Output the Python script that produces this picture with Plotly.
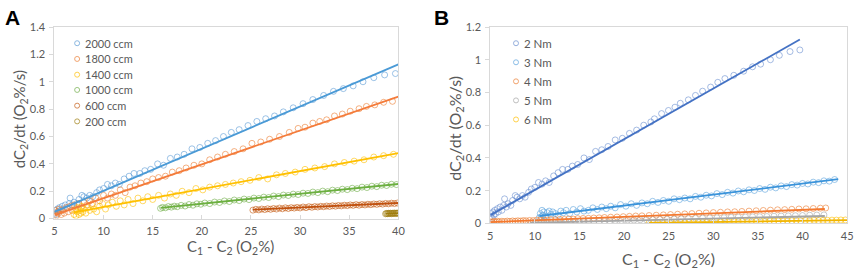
import plotly.graph_objects as go

W, H = 865, 278
FONT = "Lato, 'Open Sans', sans-serif"
GREY = "#595959"

# ---------------- Panel A data (flow rates) ----------------
a_labels = ["2000 ccm", "1800 ccm", "1400 ccm", "1000 ccm", "600 ccm", "200 ccm"]

a2000_x = [5.0, 5.1, 5.2, 5.3, 5.4, 5.5, 5.6, 5.8, 5.9, 6.1, 6.3, 6.5, 6.6, 6.8, 7.0, 7.3, 7.5, 7.8, 8.0, 8.3,
           8.6, 8.9, 9.3, 9.6, 10.0, 10.4, 10.8, 11.2, 11.6, 12.1, 12.6, 13.1, 13.7, 14.2, 14.8, 15.5, 16.1,
           16.8, 17.5, 18.2, 19.0, 19.8, 20.6, 21.4, 22.2, 23.0, 23.8, 24.7, 25.6, 26.5, 27.4, 28.3, 29.3,
           30.3, 31.3, 32.4, 33.4, 34.4, 35.4, 36.4, 37.5, 38.6, 39.7]
a2000_y = [0.04, 0.06, 0.03, 0.07, 0.05, 0.08, 0.06, 0.09, 0.07, 0.10, 0.08, 0.11, 0.15, 0.10, 0.12, 0.11, 0.14,
           0.17, 0.16, 0.15, 0.17, 0.16, 0.19, 0.21, 0.22, 0.25, 0.24, 0.26, 0.25, 0.29, 0.31, 0.33, 0.33, 0.35,
           0.36, 0.40, 0.39, 0.44, 0.45, 0.47, 0.51, 0.52, 0.55, 0.57, 0.60, 0.63, 0.65, 0.68, 0.71, 0.73, 0.75,
           0.78, 0.81, 0.84, 0.87, 0.90, 0.93, 0.95, 0.97, 1.00, 1.03, 1.05, 1.06]

a1800_x = [5.0, 5.1, 5.2, 5.3, 5.4, 5.5, 5.7, 5.8, 6.0, 6.2, 6.4, 6.6, 6.8, 7.0, 7.2, 7.5, 7.7, 8.0, 8.3, 8.6,
           8.9, 9.2, 9.6, 10.0, 10.4, 10.8, 11.2, 11.7, 12.2, 12.7, 13.2, 13.8, 14.4, 15.0, 15.6, 16.3, 17.0,
           17.7, 18.4, 19.2, 20.0, 20.8, 21.6, 22.4, 23.3, 24.2, 25.1, 26.0, 26.9, 27.9, 28.9, 29.8, 30.5,
           31.3, 32.0, 32.7, 33.5, 34.3, 35.1, 36.0, 36.75, 37.6, 38.5, 39.4]
a1800_y = [0.03, 0.06, 0.02, 0.05, 0.04, 0.07, 0.03, 0.06, 0.04, 0.08, 0.05, 0.09, 0.06, 0.10, 0.07, 0.11, 0.08,
           0.12, 0.10, 0.13, 0.11, 0.15, 0.13, 0.17, 0.15, 0.18, 0.17, 0.21, 0.19, 0.23, 0.24, 0.26, 0.27, 0.29,
           0.30, 0.31, 0.34, 0.35, 0.37, 0.39, 0.40, 0.43, 0.45, 0.47, 0.49, 0.51, 0.55, 0.56, 0.58, 0.60, 0.63,
           0.659, 0.668, 0.698, 0.71, 0.722, 0.75, 0.764, 0.785, 0.803, 0.82, 0.831, 0.85, 0.857]

a1400_x = [7.0, 7.1, 7.2, 7.3, 7.4, 7.5, 7.6, 7.7, 7.8, 7.9, 8.0, 8.2, 8.4, 8.6, 8.8, 9.0, 9.3, 9.6, 9.9, 10.2,
           10.5, 10.9, 11.3, 11.7, 12.1, 12.5, 13.0, 13.5, 14.0, 14.5, 15.0, 15.6, 16.2, 16.8, 17.4, 18.0, 18.7,
           19.4, 20.1, 20.8, 21.6, 22.4, 23.2, 24.0, 24.9, 25.8, 26.7, 27.6, 28.5, 29.5, 30.5, 31.5, 32.5, 33.5,
           34.5, 35.5, 36.5, 37.5, 38.5, 39.5]
a1400_y = [0.03, 0.06, 0.02, 0.05, 0.08, 0.03, 0.06, 0.04, 0.09, 0.05, 0.07, 0.04, 0.08, 0.06, 0.10, 0.07, 0.05,
           0.09, 0.11, 0.07, 0.10, 0.12, 0.09, 0.13, 0.10, 0.14, 0.11, 0.15, 0.13, 0.16, 0.14, 0.17, 0.15, 0.18,
           0.17, 0.20, 0.19, 0.22, 0.21, 0.23, 0.24, 0.25, 0.26, 0.27, 0.28, 0.30, 0.29, 0.32, 0.33, 0.34, 0.36,
           0.37, 0.38, 0.40, 0.41, 0.42, 0.43, 0.45, 0.46, 0.47]

a1000_x = [15.8, 16.0, 16.3, 16.6, 16.9, 17.2, 17.5, 17.9, 18.3, 18.7, 19.1, 19.5, 19.9, 20.3, 20.8, 21.3, 21.8,
           22.3, 22.8, 23.3, 23.8, 24.3, 24.8, 25.3, 25.8, 26.3, 26.8, 27.3, 27.8, 28.3, 28.8, 29.3, 29.8, 30.3,
           30.8, 31.3, 31.8, 32.3, 32.8, 33.3, 33.8, 34.3, 34.8, 35.3, 35.8, 36.3, 36.8, 37.3, 37.8, 38.3, 38.8,
           39.3, 39.8]
a1000_y = [0.075, 0.082, 0.079, 0.088, 0.084, 0.091, 0.087, 0.097, 0.092, 0.103, 0.098, 0.108, 0.105, 0.114,
           0.110, 0.121, 0.118, 0.129, 0.125, 0.136, 0.132, 0.143, 0.139, 0.150, 0.147, 0.157, 0.154, 0.165,
           0.161, 0.172, 0.169, 0.179, 0.176, 0.186, 0.184, 0.194, 0.190, 0.201, 0.197, 0.208, 0.205, 0.215,
           0.212, 0.222, 0.219, 0.230, 0.227, 0.237, 0.234, 0.244, 0.242, 0.251, 0.249]

a600_x = [25.2, 25.5, 25.8, 26.1, 26.4, 26.7, 27.0, 27.3, 27.6, 27.9, 28.2, 28.5, 28.8, 29.1, 29.4, 29.7, 30.0,
          30.3, 30.6, 30.9, 31.2, 31.5, 31.8, 32.1, 32.4, 32.7, 33.0, 33.3, 33.6, 33.9, 34.2, 34.5, 34.8, 35.1,
          35.4, 35.7, 36.0, 36.3, 36.6, 36.9, 37.2, 37.5, 37.8, 38.1, 38.4, 38.7, 39.0, 39.3, 39.6, 39.9]
a600_y = [0.062, 0.068, 0.064, 0.070, 0.066, 0.072, 0.068, 0.074, 0.070, 0.077, 0.072, 0.079, 0.074, 0.080,
          0.077, 0.082, 0.078, 0.085, 0.080, 0.087, 0.083, 0.088, 0.085, 0.090, 0.087, 0.092, 0.089, 0.094,
          0.091, 0.096, 0.093, 0.098, 0.095, 0.100, 0.097, 0.102, 0.098, 0.103, 0.100, 0.105, 0.102, 0.107,
          0.104, 0.109, 0.106, 0.111, 0.108, 0.113, 0.110, 0.114]

a200_x = [38.7, 38.8, 38.9, 39.0, 39.1, 39.2, 39.3, 39.4, 39.5, 39.6, 39.7, 39.8, 39.9, 40.0]
a200_y = [0.035, 0.038, 0.036, 0.039, 0.037, 0.040, 0.036, 0.039, 0.038, 0.041, 0.037, 0.040, 0.039, 0.041]

# trend lines (endpoints)
a_trend_x = [[5.0, 40.0], [5.0, 40.0], [7.0, 40.0], [15.8, 40.0], [25.2, 40.0], [38.7, 40.0]]
a_trend_y = [[0.049, 1.127], [0.026, 0.891], [0.046, 0.478], [0.079, 0.253], [0.065, 0.114], [0.037, 0.040]]

a_marker_colors = ["#5B9BD5", "#ED7D31", "#FFC000", "#70AD47", "#C55A11", "#9E7C0C"]
a_line_colors = ["#4A9AD6", "#F47B3A", "#FFC000", "#6BAF3F", "#C0500E", "#9E7C0C"]

# ---------------- Panel B data (torques) ----------------
b_labels = ["2 Nm", "3 Nm", "4 Nm", "5 Nm", "6 Nm"]

b2_x = [5.0, 5.1, 5.2, 5.3, 5.4, 5.5, 5.6, 5.8, 5.9, 6.1, 6.3, 6.5, 6.6, 6.8, 7.0, 7.3, 7.5, 7.8, 8.0, 8.3,
        8.6, 8.9, 9.3, 9.6, 10.0, 10.4, 10.8, 11.2, 11.6, 12.1, 12.6, 13.1, 13.7, 14.2, 14.8, 15.5, 16.1,
        16.8, 17.5, 18.2, 19.0, 19.8, 20.6, 21.4, 22.2, 23.0, 23.4, 24.2, 24.97, 25.7, 26.3, 27.2, 28.0,
        28.8, 29.7, 30.5, 31.3, 32.3, 33.4, 34.4, 35.3, 36.4, 37.4, 38.6, 39.7]
b2_y = [0.04, 0.06, 0.03, 0.07, 0.05, 0.08, 0.06, 0.09, 0.07, 0.10, 0.08, 0.11, 0.15, 0.10, 0.12, 0.11, 0.14,
        0.17, 0.16, 0.15, 0.17, 0.16, 0.19, 0.21, 0.22, 0.25, 0.24, 0.26, 0.25, 0.29, 0.31, 0.33, 0.33, 0.35,
        0.36, 0.40, 0.39, 0.44, 0.45, 0.47, 0.51, 0.52, 0.55, 0.57, 0.60, 0.62, 0.639, 0.671, 0.69, 0.71,
        0.734, 0.755, 0.782, 0.808, 0.833, 0.862, 0.885, 0.905, 0.93, 0.957, 0.973, 1.00, 1.027, 1.05, 1.06]

b3_x = [10.5, 10.6, 10.7, 10.8, 10.9, 11.0, 11.2, 11.4, 11.6, 11.8, 12.0, 12.3, 12.6, 12.9, 13.2, 13.5, 13.9,
        14.3, 14.7, 15.1, 15.5, 16.0, 16.5, 17.0, 17.5, 18.0, 18.5, 19.0, 19.6, 20.2, 20.8, 21.4, 22.0, 22.6,
        23.2, 23.8, 24.4, 25.0, 25.6, 26.2, 26.8, 27.4, 28.0, 28.6, 29.2, 29.8, 30.4, 31.0, 31.6, 32.2, 32.8,
        33.4, 34.0, 34.6, 35.2, 35.8, 36.4, 37.0, 37.6, 38.2, 38.8, 39.4, 40.0, 40.6, 41.2, 41.8, 42.4, 43.0,
        43.6]
b3_y = [0.035, 0.060, 0.040, 0.080, 0.050, 0.070, 0.045, 0.065, 0.075, 0.055, 0.070, 0.060, 0.050, 0.075,
        0.065, 0.080, 0.060, 0.085, 0.070, 0.090, 0.075, 0.080, 0.095, 0.085, 0.100, 0.090, 0.105, 0.095,
        0.115, 0.105, 0.120, 0.110, 0.125, 0.120, 0.135, 0.128, 0.140, 0.135, 0.150, 0.145, 0.155, 0.150,
        0.165, 0.160, 0.172, 0.168, 0.182, 0.176, 0.190, 0.185, 0.198, 0.193, 0.205, 0.201, 0.213, 0.208,
        0.221, 0.217, 0.229, 0.225, 0.237, 0.234, 0.244, 0.241, 0.252, 0.249, 0.260, 0.258, 0.268]

b4_x = [5.0, 5.2, 5.4, 5.6, 5.8, 6.0, 6.3, 6.6, 6.9, 7.2, 7.5, 7.8, 8.1, 8.4, 8.7, 9.0, 9.4, 9.8, 10.2, 10.6,
        11.0, 11.4, 11.8, 12.3, 12.8, 13.3, 13.8, 14.3, 14.8, 15.4, 16.0, 16.6, 17.2, 17.8, 18.5, 19.2, 19.9,
        20.6, 21.3, 22.0, 22.8, 23.6, 24.4, 25.2, 26.0, 26.8, 27.6, 28.4, 29.2, 30.0, 30.8, 31.6, 32.4, 33.2,
        34.0, 34.8, 35.6, 36.4, 37.2, 38.0, 38.8, 39.6, 40.4, 41.2, 42.0, 42.6]
b4_y = [0.010, 0.008, 0.012, 0.009, 0.013, 0.010, 0.013, 0.011, 0.014, 0.012, 0.015, 0.013, 0.016, 0.014,
        0.017, 0.016, 0.018, 0.017, 0.020, 0.019, 0.021, 0.020, 0.023, 0.022, 0.025, 0.024, 0.027, 0.026,
        0.029, 0.030, 0.031, 0.033, 0.034, 0.036, 0.038, 0.039, 0.041, 0.043, 0.045, 0.046, 0.048, 0.050,
        0.052, 0.054, 0.056, 0.058, 0.060, 0.062, 0.064, 0.066, 0.068, 0.070, 0.071, 0.073, 0.075, 0.077,
        0.079, 0.081, 0.083, 0.084, 0.086, 0.088, 0.089, 0.091, 0.093, 0.094]

b5_x = [9.5, 9.8, 10.1, 10.4, 10.7, 11.0, 11.4, 11.8, 12.2, 12.6, 13.0, 13.5, 14.0, 14.5, 15.0, 15.5, 16.0,
        16.6, 17.2, 17.8, 18.4, 19.0, 19.7, 20.4, 21.1, 21.8, 22.5, 23.2, 24.0, 24.8, 25.6, 26.4, 27.2, 28.0,
        28.8, 29.6, 30.4, 31.2, 32.0, 32.8, 33.6, 34.4, 35.2, 36.0, 36.8, 37.6, 38.4, 39.2, 40.0, 40.8, 41.6,
        42.4]
b5_y = [0.002, 0.004, 0.003, 0.005, 0.004, 0.006, 0.005, 0.007, 0.006, 0.008, 0.007, 0.009, 0.009, 0.011,
        0.010, 0.012, 0.012, 0.014, 0.014, 0.016, 0.016, 0.018, 0.018, 0.020, 0.020, 0.022, 0.022, 0.024,
        0.025, 0.026, 0.027, 0.028, 0.029, 0.031, 0.032, 0.033, 0.034, 0.035, 0.037, 0.038, 0.039, 0.040,
        0.041, 0.042, 0.044, 0.045, 0.046, 0.047, 0.048, 0.050, 0.051, 0.052]

b6_x = [22.8, 23.3, 23.8, 24.3, 24.8, 25.3, 25.8, 26.3, 26.8, 27.3, 27.8, 28.3, 28.8, 29.3, 29.8, 30.3, 30.8,
        31.3, 31.8, 32.3, 32.8, 33.3, 33.8, 34.3, 34.8, 35.3, 35.8, 36.3, 36.8, 37.3, 37.8, 38.3, 38.8, 39.3,
        39.8, 40.3, 40.8, 41.3, 41.8, 42.3, 42.8, 43.3, 43.8, 44.3, 44.8]
b6_y = [0.002, 0.004, 0.003, 0.005, 0.004, 0.006, 0.005, 0.007, 0.006, 0.007, 0.007, 0.008, 0.008, 0.009,
        0.008, 0.010, 0.009, 0.011, 0.010, 0.011, 0.011, 0.012, 0.012, 0.013, 0.012, 0.014, 0.013, 0.015,
        0.014, 0.015, 0.015, 0.016, 0.016, 0.017, 0.016, 0.018, 0.017, 0.019, 0.018, 0.019, 0.019, 0.020,
        0.020, 0.021, 0.021]

b_trend_x = [[5.0, 39.7], [10.5, 44.0], [5.0, 42.5], [9.5, 42.5], [22.8, 45.0]]
b_trend_y = [[0.05, 1.124], [0.045, 0.270], [0.008, 0.088], [0.003, 0.045], [0.003, 0.020]]

b_marker_colors = ["#6A8FD0", "#5BA3DE", "#ED7D31", "#A5A5A5", "#FFC000"]
b_line_colors = ["#4472C4", "#3A93DA", "#F4792F", "#A5A5A5", "#F0B400"]

a_series = [(a2000_x, a2000_y), (a1800_x, a1800_y), (a1400_x, a1400_y),
            (a1000_x, a1000_y), (a600_x, a600_y), (a200_x, a200_y)]
b_series = [(b2_x, b2_y), (b3_x, b3_y), (b4_x, b4_y), (b5_x, b5_y), (b6_x, b6_y)]

# ---------------- figure ----------------
fig = go.Figure()


def px_x(p):
    return p / W


def px_y(p):
    return 1 - p / H


for (xs, ys), lab, col in zip(a_series, a_labels, a_marker_colors):
    fig.add_trace(go.Scatter(x=xs, y=ys, mode="markers", name=lab, xaxis="x", yaxis="y",
                             marker=dict(symbol="circle-open", size=6, color=col, opacity=0.6,
                                         line=dict(width=1, color=col)),
                             showlegend=False))
for tx, ty, col, lab in zip(a_trend_x, a_trend_y, a_line_colors, a_labels):
    fig.add_trace(go.Scatter(x=tx, y=ty, mode="lines", name=lab + " trend", xaxis="x", yaxis="y",
                             line=dict(color=col, width=1.8), showlegend=False))

for (xs, ys), lab, col in zip(b_series, b_labels, b_marker_colors):
    fig.add_trace(go.Scatter(x=xs, y=ys, mode="markers", name=lab, xaxis="x2", yaxis="y2",
                             marker=dict(symbol="circle-open", size=6, color=col, opacity=0.6,
                                         line=dict(width=1, color=col)),
                             showlegend=False))
for tx, ty, col, lab in zip(b_trend_x, b_trend_y, b_line_colors, b_labels):
    fig.add_trace(go.Scatter(x=tx, y=ty, mode="lines", name=lab + " trend", xaxis="x2", yaxis="y2",
                             line=dict(color=col, width=1.8), showlegend=False))

axis_common = dict(showline=True, linecolor="#D9D9D9", linewidth=1, mirror=True, showgrid=False,
                   zeroline=False, tickfont=dict(family=FONT, size=11, color=GREY),
                   ticks="outside", ticklen=4, tickcolor="#D9D9D9", fixedrange=True)

fig.update_layout(
    width=W, height=H, margin=dict(l=0, r=0, t=0, b=0),
    paper_bgcolor="white", plot_bgcolor="white", showlegend=False,
    font=dict(family=FONT, color=GREY),
    xaxis=dict(axis_common, domain=[px_x(52), px_x(400)], range=[5, 40], dtick=5, tick0=5,
               anchor="y", ticks="inside", ticklabelstandoff=2),
    yaxis=dict(axis_common, domain=[px_y(222), px_y(21)], range=[0, 1.4], dtick=0.2, anchor="x",
               ticklabelstandoff=2),
    xaxis2=dict(axis_common, domain=[px_x(493), px_x(854)], range=[5, 45], dtick=5, tick0=5,
                anchor="y2", ticks="inside", ticklabelstandoff=2),
    yaxis2=dict(axis_common, domain=[px_y(227), px_y(21)], range=[0, 1.2], dtick=0.2, anchor="x2",
                ticklabelstandoff=2),
)

ann = []
shapes = []
title_font = dict(family=FONT, size=15, color=GREY)
ann.append(dict(text="dC<sub>2</sub>/dt (O<sub>2</sub>%/s)", x=px_x(18), y=px_y(118), xref="paper",
                yref="paper", textangle=-90, showarrow=False, font=title_font,
                xanchor="center", yanchor="middle"))
ann.append(dict(text="C<sub>1</sub> - C<sub>2</sub> (O<sub>2</sub>%)", x=px_x(230), y=px_y(252),
                xref="paper", yref="paper", showarrow=False, font=title_font,
                xanchor="center", yanchor="middle"))
ann.append(dict(text="dC<sub>2</sub>/dt (O<sub>2</sub>%/s)", x=px_x(457), y=px_y(127), xref="paper",
                yref="paper", textangle=-90, showarrow=False, font=dict(title_font, size=16),
                xanchor="center", yanchor="middle"))
ann.append(dict(text="C<sub>1</sub> - C<sub>2</sub> (O<sub>2</sub>%)", x=px_x(673), y=px_y(265),
                xref="paper", yref="paper", showarrow=False, font=dict(title_font, size=16),
                xanchor="center", yanchor="middle"))
ann.append(dict(text="<b>A</b>", x=px_x(0), y=px_y(11), xref="paper", yref="paper", showarrow=False,
                xanchor="left", yanchor="middle", font=dict(family="Liberation Sans, Arial", size=21,
                                                           color="black")))
ann.append(dict(text="<b>B</b>", x=px_x(434), y=px_y(11), xref="paper", yref="paper", showarrow=False,
                xanchor="left", yanchor="middle", font=dict(family="Liberation Sans, Arial", size=21,
                                                           color="black")))

# manual legends
a_leg_y = [38, 54.5, 71, 87, 103.5, 120]
for lab, col, yy in zip(a_labels, a_marker_colors, a_leg_y):
    shapes.append(dict(type="circle", xref="paper", yref="paper", xsizemode="pixel", ysizemode="pixel",
                       xanchor=px_x(75), yanchor=px_y(yy), x0=-2.5, x1=2.5, y0=-2.5, y1=2.5,
                       line=dict(color=col, width=1), opacity=0.7))
    ann.append(dict(text=lab, x=px_x(81), y=px_y(yy), xref="paper", yref="paper", showarrow=False,
                    xanchor="left", yanchor="middle", font=dict(family=FONT, size=11, color=GREY)))
b_leg_y = [38, 58, 78, 98, 118]
for lab, col, yy in zip(b_labels, b_marker_colors, b_leg_y):
    shapes.append(dict(type="circle", xref="paper", yref="paper", xsizemode="pixel", ysizemode="pixel",
                       xanchor=px_x(519), yanchor=px_y(yy), x0=-2.5, x1=2.5, y0=-2.5, y1=2.5,
                       line=dict(color=col, width=1), opacity=0.7))
    ann.append(dict(text=lab, x=px_x(525), y=px_y(yy), xref="paper", yref="paper", showarrow=False,
                    xanchor="left", yanchor="middle", font=dict(family=FONT, size=11.5, color=GREY)))

fig.update_layout(annotations=ann, shapes=shapes)
fig.write_html("out.html", config={"displayModeBar": False, "staticPlot": False},
               post_script="document.body.style.margin='0';document.body.style.padding='0';"
                           "document.body.style.overflow='hidden';")
